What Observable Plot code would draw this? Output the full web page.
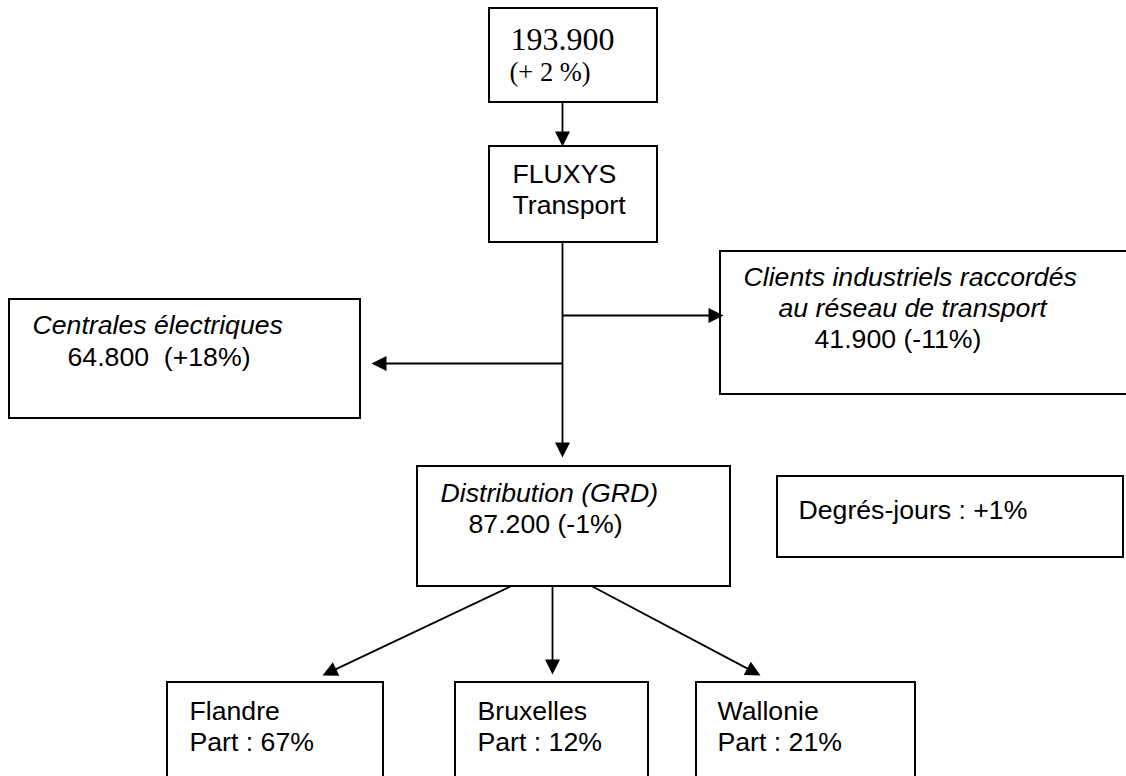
<!DOCTYPE html>
<html>
<head>
<meta charset="utf-8">
<script src="https://cdn.jsdelivr.net/npm/d3@7"></script>
<script src="https://cdn.jsdelivr.net/npm/@observablehq/plot@0.6"></script>
<style>
  html, body { margin: 0; padding: 0; background: #fff; }
  #chart svg { display: block; }
</style>
</head>
<body>
<div id="chart"></div>
<script>
// ---------------- DATA ----------------
const totalVolume = 193900;          // total
const totalChange = 2;               // %
const fluxysLabel = ["FLUXYS", "Transport"];
const consumerNames = ["Centrales électriques", "Clients industriels raccordés", "au réseau de transport", "Distribution (GRD)"];
const consumerVolumes = [64800, 41900, 87200];   // centrales, clients, distribution
const consumerChanges = [18, -11, -1];           // %
const degreeDaysChange = 1;                      // %
const regions = ["Flandre", "Bruxelles", "Wallonie"];
const regionShares = [67, 12, 21];               // %

// ---------------- FORMAT ----------------
const fr = d3.formatLocale({decimal: ",", thousands: ".", grouping: [3], currency: ["", " €"]});
const fmtVol = fr.format(",");
const sign = v => (v >= 0 ? "+" : "-") + Math.abs(v);

// ---------------- LAYOUT (diagram geometry) ----------------
const W = 1126, H = 776;
const boxes = [
  {x1: 489, x2: 657, y1: 8,   y2: 102},   // total
  {x1: 489, x2: 657, y1: 146, y2: 242},   // fluxys
  {x1: 9,   x2: 360, y1: 299, y2: 418},   // centrales
  {x1: 720, x2: 1134, y1: 251, y2: 394},  // clients
  {x1: 417, x2: 730, y1: 466, y2: 586},   // distribution
  {x1: 777, x2: 1123, y1: 476, y2: 557},  // degres-jours
  {x1: 167, x2: 383, y1: 682, y2: 800},   // flandre
  {x1: 455, x2: 648, y1: 682, y2: 800},   // bruxelles
  {x1: 696, x2: 915, y1: 682, y2: 800}    // wallonie
];
const arrows = [
  {x1: 562, y1: 102, x2: 562, y2: 146},
  {x1: 562, y1: 242, x2: 562, y2: 457},
  {x1: 562, y1: 315, x2: 723, y2: 315},
  {x1: 562, y1: 363, x2: 371, y2: 363},
  {x1: 510, y1: 586, x2: 322, y2: 675},
  {x1: 552, y1: 586, x2: 552, y2: 674},
  {x1: 592, y1: 586, x2: 760, y2: 675}
];
// arrowhead: isosceles triangle, tip up, centred on its centroid
const headLen = 15, headW = 15;
const headSymbol = {
  draw(ctx) {
    ctx.moveTo(0, -headLen * 2 / 3);
    ctx.lineTo(headW / 2, headLen / 3);
    ctx.lineTo(-headW / 2, headLen / 3);
    ctx.closePath();
  }
};
const heads = arrows.map(a => {
  const dx = a.x2 - a.x1, dy = a.y2 - a.y1, L = Math.hypot(dx, dy);
  const ux = dx / L, uy = dy / L;
  return {x: a.x2 - ux * headLen * 2 / 3, y: a.y2 - uy * headLen * 2 / 3,
          rotate: Math.atan2(dx, -dy) * 180 / Math.PI};
});
const shafts = arrows.map(a => {
  const dx = a.x2 - a.x1, dy = a.y2 - a.y1, L = Math.hypot(dx, dy);
  return {x1: a.x1, y1: a.y1, x2: a.x2 - dx / L * headLen * 0.8, y2: a.y2 - dy / L * headLen * 0.8};
});

// text items: x, baseline y
const serifBig = [{x: 510, y: 49, t: fmtVol(totalVolume)}];
const serifSmall = [{x: 509, y: 80, t: `(${totalChange >= 0 ? "+" : "-"} ${Math.abs(totalChange)} %)`}];
const sansItalic = [
  {x: 32,  y: 333, t: consumerNames[0]},
  {x: 743, y: 285, t: consumerNames[1]},
  {x: 778, y: 316, t: consumerNames[2]},
  {x: 440, y: 501, t: consumerNames[3]}
];
const sansNormal = [
  {x: 512, y: 182, t: fluxysLabel[0]},
  {x: 512, y: 213, t: fluxysLabel[1]},
  {x: 67,  y: 365, t: `${fmtVol(consumerVolumes[0])}\u00a0 (${sign(consumerChanges[0])}%)`},
  {x: 814, y: 347, t: `${fmtVol(consumerVolumes[1])} (${sign(consumerChanges[1])}%)`},
  {x: 468, y: 532, t: `${fmtVol(consumerVolumes[2])} (${sign(consumerChanges[2])}%)`},
  {x: 798, y: 518, t: `Degrés-jours : ${sign(degreeDaysChange)}%`},
  ...regions.flatMap((reg, i) => {
    const xs = [189, 477, 717];
    return [{x: xs[i], y: 719, t: reg}, {x: xs[i], y: 750, t: `Part : ${regionShares[i]}%`}];
  })
];

const textOpts = {x: "x", y: "y", text: "t", textAnchor: "start", lineAnchor: "bottom", fill: "black"};

const chart = Plot.plot({
  width: W, height: H,
  margin: 0,
  x: {domain: [0, W], range: [0, W], axis: null},
  y: {domain: [0, H], range: [0, H], axis: null},
  style: {background: "white"},
  marks: [
    Plot.rect(boxes, {x1: "x1", x2: "x2", y1: "y1", y2: "y2", fill: "white", stroke: "black", strokeWidth: 2}),
    Plot.link(shafts, {x1: "x1", y1: "y1", x2: "x2", y2: "y2", stroke: "black", strokeWidth: 1.8}),
    Plot.dot(heads, {x: "x", y: "y", rotate: "rotate", r: 5, symbol: headSymbol, fill: "black", stroke: "none"}),
    Plot.text(serifBig, {...textOpts, fontFamily: "Liberation Serif", fontSize: 32}),
    Plot.text(serifSmall, {...textOpts, fontFamily: "Liberation Serif", fontSize: 26.5}),
    Plot.text(sansItalic, {...textOpts, fontFamily: "Liberation Sans", fontSize: 26.67, fontStyle: "italic"}),
    Plot.text(sansNormal, {...textOpts, fontFamily: "Liberation Sans", fontSize: 26.67})
  ]
});
document.getElementById("chart").appendChild(chart);
</script>
</body>
</html>
